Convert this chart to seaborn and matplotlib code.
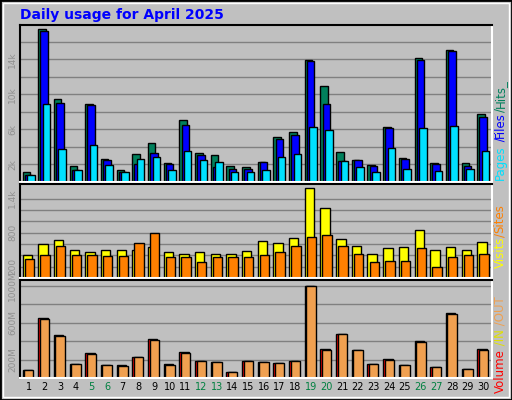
import numpy as np
import matplotlib
matplotlib.use("Agg")
import matplotlib.pyplot as plt
import seaborn as sns

days = list(range(1, 31))
weekend_days = [5, 6, 12, 13, 19, 20, 26, 27]

# values in thousands
hits = [1.1, 17.5, 9.5, 1.85, 8.9, 2.65, 1.4, 3.2, 4.5, 2.2, 7.1, 3.35, 3.1, 1.85, 1.75,
        2.3, 5.1, 5.7, 13.9, 10.9, 3.45, 2.55, 1.95, 6.3, 2.75, 14.1, 2.2, 15.1, 2.2, 7.7]
files = [0.8, 17.2, 9.05, 1.4, 8.8, 2.55, 1.15, 2.1, 3.35, 2.1, 6.55, 3.1, 1.75, 1.5, 1.5,
         2.3, 4.95, 5.4, 13.85, 8.9, 2.4, 2.55, 1.85, 6.1, 2.65, 13.95, 2.1, 14.9, 1.85, 7.45]
pages = [0.8, 8.9, 3.8, 1.4, 4.25, 1.95, 1.1, 2.65, 2.9, 1.4, 3.55, 2.55, 2.3, 1.15, 1.1,
         1.4, 2.9, 3.2, 6.3, 5.95, 2.4, 1.75, 1.1, 3.9, 1.5, 6.1, 1.3, 6.4, 1.5, 3.55]

visits = [413, 593, 665, 503, 467, 503, 503, 503, 539, 467, 431, 467, 431, 431, 485,
          647, 611, 701, 1581, 1240, 683, 557, 431, 521, 539, 845, 503, 539, 503, 629]
sites = [341, 413, 557, 413, 413, 395, 395, 611, 791, 377, 377, 287, 377, 377, 377,
         413, 467, 557, 719, 755, 557, 431, 287, 305, 305, 521, 197, 377, 413, 431]

# MB
vol_in = [91, 647, 469, 147, 269, 136, 136, 224, 424, 147, 280, 180, 169, 69, 180,
          169, 158, 180, 1002, 313, 480, 302, 147, 202, 136, 402, 124, 702, 102, 313]
vol_out = [91, 636, 458, 147, 258, 136, 125, 224, 413, 136, 269, 180, 169, 69, 180,
           169, 158, 180, 1002, 302, 480, 302, 147, 191, 136, 391, 124, 691, 102, 302]

sns.set_style("white")
plt.rcParams['font.family'] = ['DejaVu Sans']
BG = "#C0C0C0"

fig = plt.figure(figsize=(5.12, 4.0), dpi=100, facecolor=BG)
W, H = 512, 400

def mk(top, bottom):
    return fig.add_axes([20 / W, 1 - bottom / H, 472 / W, (bottom - top) / H])

ax1 = mk(25, 182)
ax2 = mk(184, 278)
ax3 = mk(280, 378)
x = np.array(days)

def style(ax, ymax, ticks, labels):
    ax.set_facecolor(BG)
    ax.set_xlim(0.45, 30.55)
    ax.set_ylim(0, ymax)
    for t in ticks:
        ax.axhline(t, color="#808080", lw=1, zorder=0)
    ax.set_yticks(ticks)
    ax.set_yticklabels(labels, rotation=90, va="center", fontsize=6.5, color="#909090")
    ax.tick_params(axis="y", length=0, pad=2)
    ax.set_xticks([])
    for s in ax.spines.values():
        s.set_color("white")
        s.set_linewidth(1.5)
    ax.spines["top"].set_color("black")
    ax.spines["left"].set_color("black")

kw = dict(edgecolor="black", linewidth=1, align="edge")
ax1.bar(x - 0.39, hits, 0.48, color="#00805C", **kw)
ax1.bar(x - 0.25, files, 0.48, color="#0000FF", **kw)
ax1.bar(x - 0.10, pages, 0.48, color="#00E0FF", **kw)
t1 = [2, 4, 6, 8, 10, 12, 14, 16]
style(ax1, 17.9, t1, ["2k", "", "6k", "", "10k", "", "14k", ""])

ax2.bar(x - 0.39, visits, 0.6, color="#FFFF00", **kw)
ax2.bar(x - 0.26, sites, 0.6, color="#FF8000", **kw)
t2 = [200, 400, 600, 800, 1000, 1200, 1400]
style(ax2, 1660, t2, ["200", "", "", "800", "", "", "1.4k"])

ax3.bar(x - 0.39, vol_in, 0.6, color="#FF0000", **kw)
ax3.bar(x - 0.29, vol_out, 0.6, color="#F0A050", **kw)
t3 = [200, 400, 600, 800, 1000]
style(ax3, 1065, t3, ["200M", "", "600M", "", "1000M"])
ax3.set_xticks(days)
ax3.set_xticklabels([str(d) for d in days], fontsize=7)
ax3.tick_params(axis="x", length=0, pad=3)
for lbl, d in zip(ax3.get_xticklabels(), days):
    lbl.set_color("#008040" if d in weekend_days else "black")

fig.text(20 / W, 1 - 15 / H, "Daily usage for April 2025", color="#0000FF",
         fontsize=10, fontweight="bold", va="center")

renderer = fig.canvas.get_renderer()

def vlabel(ybottom, parts):
    # parts stacked upward from ybottom (pixels from top)
    y = ybottom
    for txt, col in parts:
        t = fig.text(500 / W, 1 - y / H, txt, color=col, rotation=90, fontsize=8.5,
                     ha="center", va="bottom")
        y -= t.get_window_extent(renderer).height

vlabel(180, [("Pages", "#00E0FF"), (" /", "#0000FF"), ("Files", "#0000FF"), ("/", "#00805C"), ("Hits_", "#00805C")])
vlabel(268, [("Visits", "#FFFF00"), ("/", "#FF8000"), ("Sites", "#FF8000")])
vlabel(393, [("Volume", "#FF0000"), (" /IN", "#E0E000"), (" /OUT", "#F0A050")])

# outer frame
fig.add_artist(plt.Rectangle((0, 0), 1, 1, transform=fig.transFigure, fill=False,
                             edgecolor="black", linewidth=2))
fig.add_artist(plt.Rectangle((3 / W, 3 / H), 1 - 6 / W, 1 - 6 / H, transform=fig.transFigure,
                             fill=False, edgecolor="white", linewidth=1))

fig.savefig("out.png", dpi=100, facecolor=BG)
